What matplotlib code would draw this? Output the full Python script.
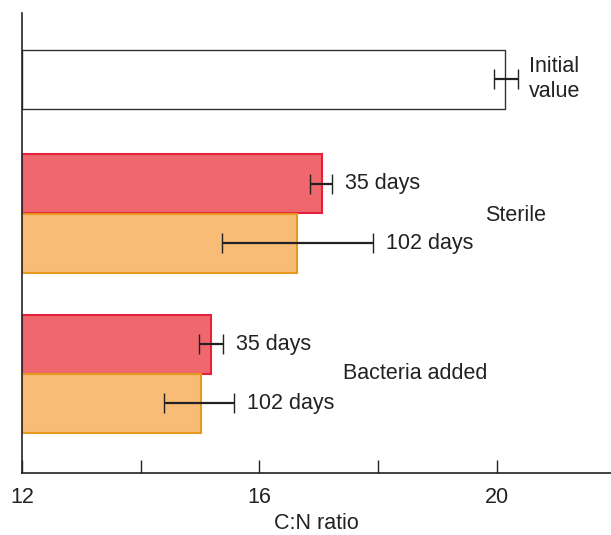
import matplotlib
matplotlib.use("Agg")
import matplotlib.pyplot as plt

plt.rcParams['font.family'] = ['Liberation Sans', 'DejaVu Sans']

# C:N ratio values
labels = ['Initial', '35 days', '102 days', '35 days', '102 days']
values = [20.15, 17.05, 16.64, 15.19, 15.01]
err_lo = [19.96, 16.85, 15.37, 14.99, 14.39]
err_hi = [20.36, 17.22, 17.92, 15.39, 15.58]
group_names = ['Sterile', 'Bacteria added']

# layout (bar height = 1 unit)
ypos = [1.13, 2.90, 3.91, 5.62, 6.62]
fills = ['white', '#f0676e', '#f9bc76', '#f0676e', '#f9bc76']
edges = ['#333333', '#e8203f', '#e59a1f', '#e8203f', '#e59a1f']
fs = 15.5

fig = plt.figure(figsize=(6.11, 5.35), dpi=100)
ax = fig.add_axes([0.036, 0.116, 0.964, 0.86])

for i in range(len(values)):
    ax.barh(ypos[i], values[i] - 12, left=12, height=1.0,
            color=fills[i], edgecolor=edges[i], linewidth=1.5 if i else 1.0)
    lo = values[i] - err_lo[i]
    hi = err_hi[i] - values[i]
    ax.errorbar(values[i], ypos[i], xerr=[[lo], [hi]], fmt='none',
                ecolor='#222222', elinewidth=1.6, capsize=7, capthick=1.0)
    if i > 0:
        ax.text(err_hi[i] + 0.22, ypos[i], labels[i], fontsize=fs,
                va='center', ha='left', color='#222222')

ax.text(20.55, 1.13, 'Initial\nvalue', fontsize=fs, va='center', ha='left',
        color='#222222', linespacing=1.25)
ax.text(19.8, 3.43, group_names[0], fontsize=fs, va='center', ha='left',
        color='#222222')
ax.text(17.41, 6.12, group_names[1], fontsize=fs, va='center', ha='left',
        color='#222222')

ax.set_xlim(12, 21.93)
ax.set_ylim(7.8, 0)
ax.set_yticks([])
ax.set_xticks([12, 14, 16, 18, 20])
ax.set_xticklabels(['12', '', '16', '', '20'])
ax.tick_params(axis='x', direction='in', length=9.5, width=1.0,
               pad=10, labelsize=fs, colors='#222222')
for s in ['top', 'right']:
    ax.spines[s].set_visible(False)
for s in ['left', 'bottom']:
    ax.spines[s].set_linewidth(1.2)
    ax.spines[s].set_color('#222222')
ax.set_xlabel('C:N ratio', fontsize=fs, labelpad=4, color='#222222')

fig.savefig('out.png', dpi=100)
